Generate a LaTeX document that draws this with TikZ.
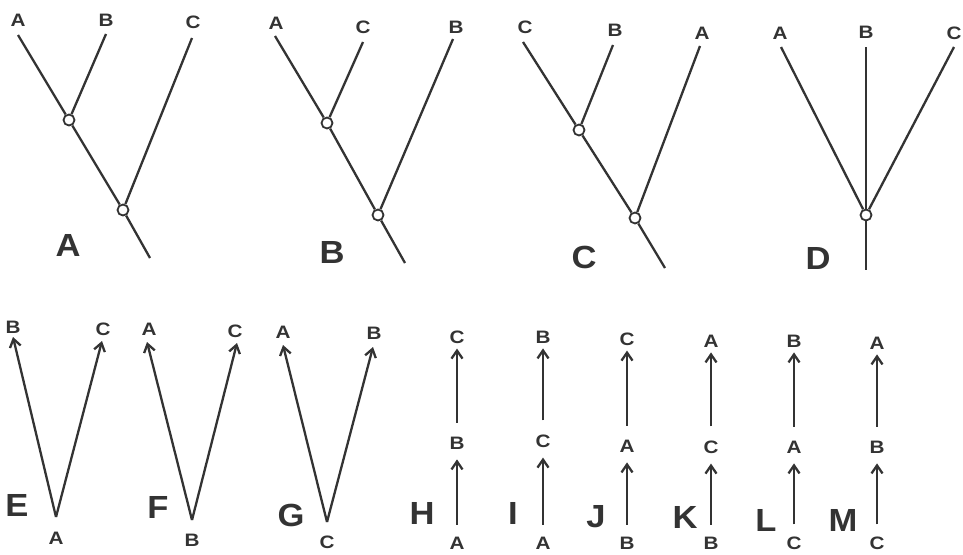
\documentclass[tikz,border=0pt]{standalone}
\usepackage{fontspec}
\usetikzlibrary{arrows.meta}
\newfontfamily\labfont{Liberation Sans}[FakeStretch=1.15]
\newfontfamily\bigfont{Liberation Sans}[FakeStretch=1.08]
\definecolor{ink}{HTML}{333333}
\begin{document}
\begin{tikzpicture}[x=1pt,y=-1pt,
 lab/.style={font=\labfont\bfseries\fontsize{18}{18}\selectfont, text=ink, inner sep=0pt},
 big/.style={font=\bigfont\bfseries\fontsize{32}{32}\selectfont, text=ink, inner sep=0pt},
 ln/.style={draw=ink, line width=2.3pt},
 nd/.style={circle, draw=ink, line width=1.8pt, fill=white, minimum size=11pt, inner sep=0pt},
 arr/.style={ln, -{Straight Barb[length=8pt,width=11pt,line width=2.3pt]}},
 up1/.style={arr, shorten <=12pt, shorten >=10pt},
 up2/.style={arr, shorten <=14pt, shorten >=5pt},
]
\useasboundingbox (0,0) rectangle (963,554);

% ---------- Panel A ----------
\node[lab] (aA) at (18,20) {A};
\node[lab] (aB) at (106,20) {B};
\node[lab] (aC) at (193,22) {C};
\coordinate (aAt) at (18,35);
\coordinate (aBt) at (106,34);
\coordinate (aCt) at (192,38);
\node[nd] (a1) at (69,120) {};
\node[nd] (a2) at (123,210) {};
\coordinate (ar) at (150,258);
\draw[ln] (aAt) -- (a1);
\draw[ln] (aBt) -- (a1);
\draw[ln] (a1) -- (a2);
\draw[ln] (aCt) -- (a2);
\draw[ln] (a2) -- (ar);
\node[big] (labA) at (68,245) {A};

% ---------- Panel B ----------
\node[lab] (bA) at (276,23) {A};
\node[lab] (bC) at (363,27) {C};
\node[lab] (bB) at (456,27) {B};
\coordinate (bAt) at (275,36);
\coordinate (bCt) at (363,42);
\coordinate (bBt) at (453,39);
\node[nd] (b1) at (327,123) {};
\node[nd] (b2) at (378,215) {};
\coordinate (br) at (405,263);
\draw[ln] (bAt) -- (b1);
\draw[ln] (bCt) -- (b1);
\draw[ln] (b1) -- (b2);
\draw[ln] (bBt) -- (b2);
\draw[ln] (b2) -- (br);
\node[big] (labB) at (332,252) {B};

% ---------- Panel C ----------
\node[lab] (cC) at (525,27) {C};
\node[lab] (cB) at (615,30) {B};
\node[lab] (cA) at (702,33) {A};
\coordinate (cCt) at (523,42);
\coordinate (cBt) at (613,45);
\coordinate (cAt) at (700,46);
\node[nd] (c1) at (579,130) {};
\node[nd] (c2) at (635,218) {};
\coordinate (cr) at (665,268);
\draw[ln] (cCt) -- (c1);
\draw[ln] (cBt) -- (c1);
\draw[ln] (c1) -- (c2);
\draw[ln] (cAt) -- (c2);
\draw[ln] (c2) -- (cr);
\node[big] (labC) at (584,257) {C};

% ---------- Panel D ----------
\node[lab] (dA) at (780,33) {A};
\node[lab] (dB) at (866,32) {B};
\node[lab] (dC) at (954,33) {C};
\coordinate (dAt) at (781,47);
\coordinate (dBt) at (866,47);
\coordinate (dCt) at (954,47);
\node[nd] (d1) at (866,215) {};
\coordinate (dr) at (866,270);
\draw[ln] (dAt) -- (d1);
\draw[ln] (dBt) -- (d1);
\draw[ln] (dCt) -- (d1);
\draw[ln] (d1) -- (dr);
\node[big] (labD) at (818,258) {D};

% ---------- Panel E ----------
\node[lab] (eB) at (13,327) {B};
\node[lab] (eC) at (103,329) {C};
\coordinate (eBt) at (13,337);
\coordinate (eCt) at (102,341);
\coordinate (eV) at (56,517);
\node[lab] (eA) at (56,538) {A};
\draw[arr] (eV) -- (eBt);
\draw[arr] (eV) -- (eCt);
\node[big] (labE) at (17,505) {E};

% ---------- Panel F ----------
\node[lab] (fA) at (149,329) {A};
\node[lab] (fC) at (235,331) {C};
\coordinate (fAt) at (147,342);
\coordinate (fCt) at (237,343);
\coordinate (fV) at (192,520);
\node[lab] (fB) at (192,540) {B};
\draw[arr] (fV) -- (fAt);
\draw[arr] (fV) -- (fCt);
\node[big] (labF) at (158,507) {F};

% ---------- Panel G ----------
\node[lab] (gA) at (283,332) {A};
\node[lab] (gB) at (374,333) {B};
\coordinate (gAt) at (283,345);
\coordinate (gBt) at (373,347);
\coordinate (gV) at (327,522);
\node[lab] (gC) at (327,542) {C};
\draw[arr] (gV) -- (gAt);
\draw[arr] (gV) -- (gBt);
\node[big] (labG) at (291,515) {G};

% ---------- Panels H - M ----------
% H
\node[lab] (h3) at (457,337) {C};
\node[lab] (h2) at (457,443) {B};
\node[lab] (h1) at (457,543) {A};
\draw[up1] (h1) -- (h2);
\draw[up2] (h2) -- (h3);
\node[big] (labH) at (422,513) {H};
% I
\node[lab] (i3) at (543,337) {B};
\node[lab] (i2) at (543,441) {C};
\node[lab] (i1) at (543,543) {A};
\draw[up1] (i1) -- (i2);
\draw[up2] (i2) -- (i3);
\node[big] (labI) at (513,513) {I};
% J
\node[lab] (j3) at (627,339) {C};
\node[lab] (j2) at (627,446) {A};
\node[lab] (j1) at (627,543) {B};
\draw[up1] (j1) -- (j2);
\draw[up2] (j2) -- (j3);
\node[big] (labJ) at (596,517) {J};
% K
\node[lab] (k3) at (711,341) {A};
\node[lab] (k2) at (711,447) {C};
\node[lab] (k1) at (711,543) {B};
\draw[up1] (k1) -- (k2);
\draw[up2] (k2) -- (k3);
\node[big] (labK) at (685,517) {K};
% L
\node[lab] (l3) at (794,341) {B};
\node[lab] (l2) at (794,447) {A};
\node[lab] (l1) at (794,543) {C};
\draw[up1] (l1) -- (l2);
\draw[up2] (l2) -- (l3);
\node[big] (labL) at (766,520) {L};
% M
\node[lab] (m3) at (877,343) {A};
\node[lab] (m2) at (877,447) {B};
\node[lab] (m1) at (877,543) {C};
\draw[up1] (m1) -- (m2);
\draw[up2] (m2) -- (m3);
\node[big] (labM) at (843,520) {M};
\end{tikzpicture}
\end{document}
